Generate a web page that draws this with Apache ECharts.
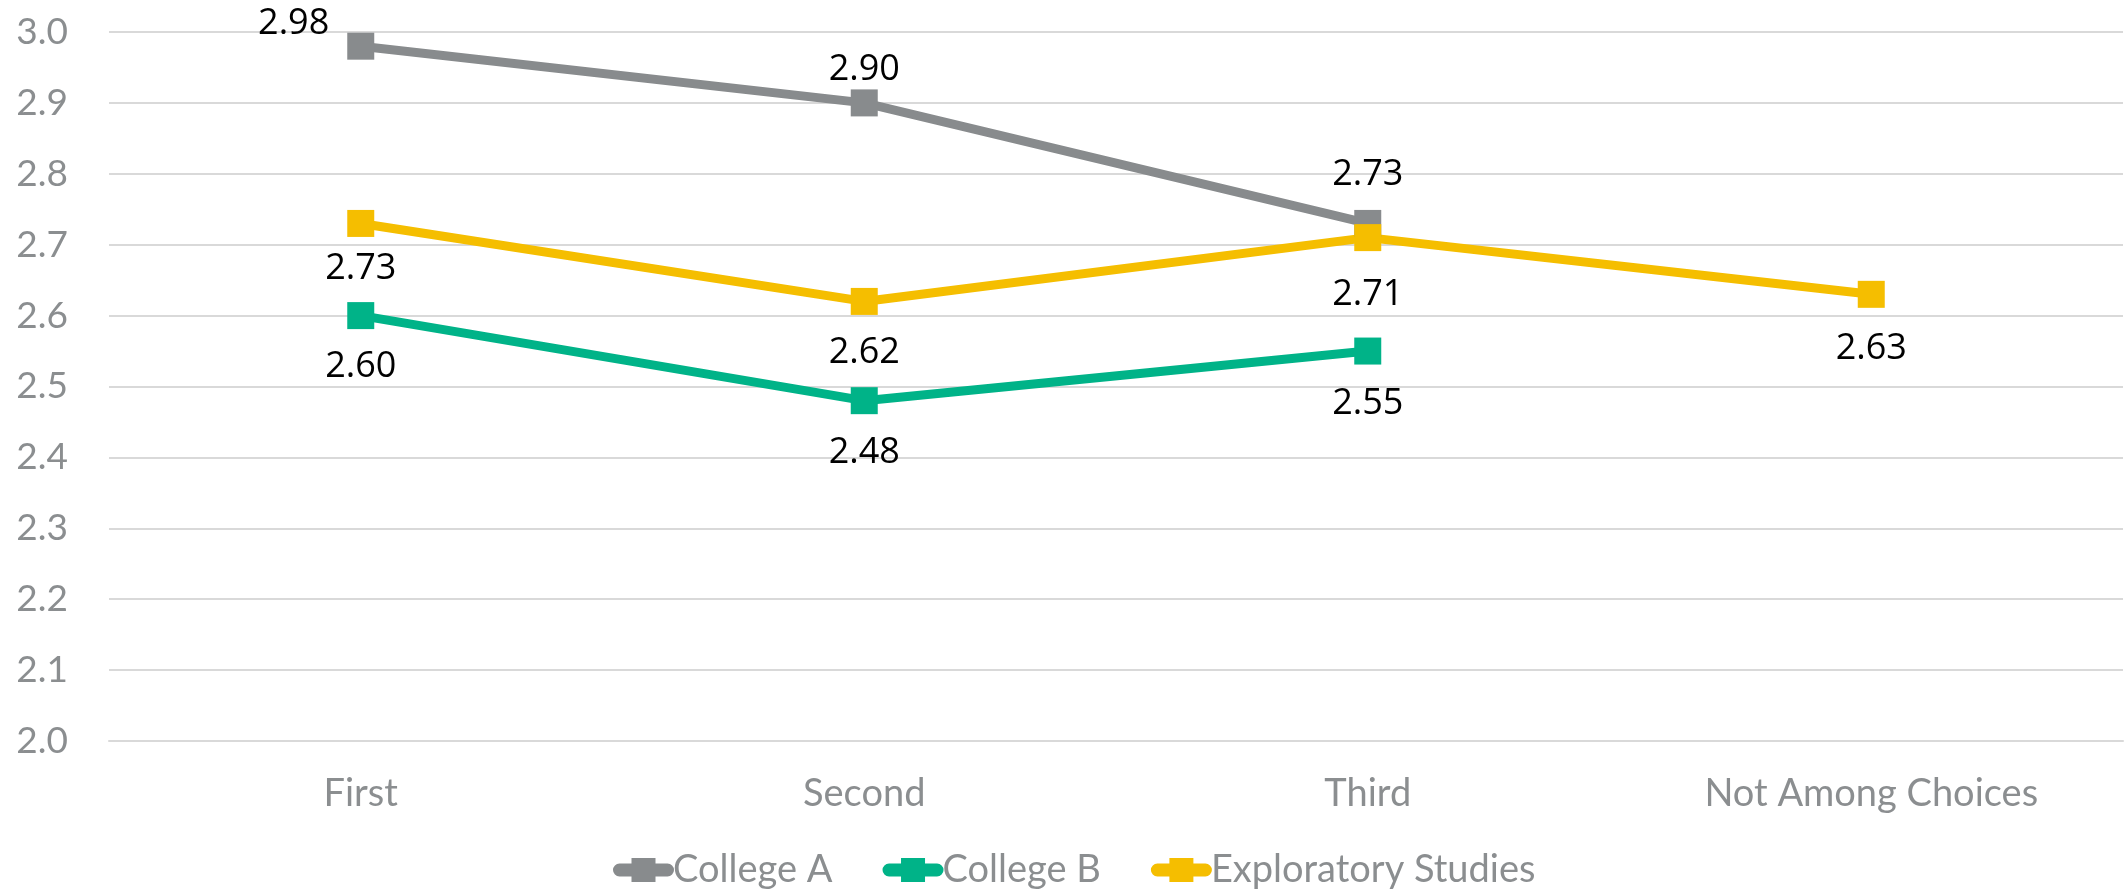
<!DOCTYPE html>
<html>
<head>
<meta charset="utf-8">
<script src="https://cdn.jsdelivr.net/npm/echarts@6/dist/echarts.min.js"></script>
<style>
  html, body { margin: 0; padding: 0; background: #fff; }
  #chart { width: 2124px; height: 891px; }
</style>
</head>
<body>
<div id="chart"></div>
<script>
  // data
  var categories = ["First", "Second", "Third", "Not Among Choices"];
  var collegeA = [2.98, 2.90, 2.73, null];
  var collegeB = [2.60, 2.48, 2.55, null];
  var exploratory = [2.73, 2.62, 2.71, 2.63];
  var yTicks = { min: 2.0, max: 3.0, step: 0.1 };

  // label placement per point (styling only)
  var labelDistA = [18, 2, 17, 0];
  var labelDistB = [20, 21, 21, 0];
  var labelDistE = [14, 20, 26, 23];

  var axisGray = "#8B8E90";
  var labelFont = "Open Sans";
  var axisFont = "Lato";

  // legend icon: rounded bar with square in the middle
  var legendIcon = "path://M6.5,5.5 L54.5,5.5 A6.5,6.5 0 0 1 54.5,18.5 L6.5,18.5 A6.5,6.5 0 0 1 6.5,5.5 Z M18.5,0 L42.5,0 L42.5,24 L18.5,24 Z";

  function buildData(values, dists, position, offset) {
    return values.map(function (v, i) {
      var item = { value: v, label: { distance: dists[i] } };
      if (i === 0 && offset) {
        item.label.position = position;
        item.label.offset = offset;
      }
      return item;
    });
  }

  function lineSeries(name, color, data, pos) {
    return {
      name: name,
      type: "line",
      data: data,
      symbol: "rect",
      symbolSize: 27,
      showAllSymbol: true,
      connectNulls: false,
      itemStyle: { color: color },
      lineStyle: { color: color, width: 9 },
      label: {
        show: true,
        position: pos,
        color: "#000",
        fontFamily: labelFont,
        fontSize: 36,
        formatter: function (p) { return p.value == null ? "" : p.value.toFixed(2); }
      },
      emphasis: { disabled: true },
      animation: false
    };
  }

  var chart = echarts.init(document.getElementById("chart"));
  chart.setOption({
    backgroundColor: "#fff",
    animation: false,
    grid: { left: 109, right: 1, top: 32, bottom: 150, outerBoundsMode: "none" },
    legend: {
      left: 608,
      top: 846,
      itemWidth: 61,
      itemHeight: 24,
      itemGap: 50,
      icon: legendIcon,
      textStyle: { color: axisGray, fontFamily: axisFont, fontSize: 38, padding: [0, 0, 0, -6] },
      data: ["College A", "College B", "Exploratory Studies"]
    },
    xAxis: {
      type: "category",
      data: categories,
      axisLine: { show: true, lineStyle: { color: "#D9D9D9", width: 2 } },
      axisTick: { show: false },
      axisLabel: { color: axisGray, fontFamily: axisFont, fontSize: 38, margin: 34 }
    },
    yAxis: {
      type: "value",
      min: yTicks.min,
      max: yTicks.max,
      interval: yTicks.step,
      axisLine: { show: false },
      axisTick: { show: false },
      splitLine: { lineStyle: { color: "#D9D9D9", width: 2 } },
      axisLabel: {
        color: axisGray, fontFamily: axisFont, fontSize: 37, margin: 41,
        formatter: function (v) { return v.toFixed(1); }
      }
    },
    series: [
      lineSeries("College A", "#888B8D", buildData(collegeA, labelDistA, "left", [0, -22]), "top"),
      lineSeries("College B", "#00B388", buildData(collegeB, labelDistB), "bottom"),
      lineSeries("Exploratory Studies", "#F5BE00", buildData(exploratory, labelDistE), "bottom")
    ]
  });
</script>
</body>
</html>
